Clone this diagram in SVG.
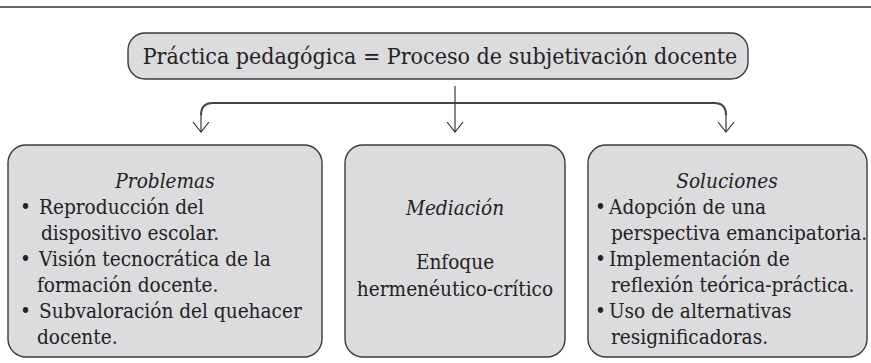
<svg xmlns="http://www.w3.org/2000/svg" width="871" height="363" viewBox="0 0 871 363">
<defs>
<marker id="ah" viewBox="0 0 18 12" refX="9" refY="11" markerWidth="18" markerHeight="12" markerUnits="userSpaceOnUse" orient="0">
<path d="M1 1 L9 11 L17 1" fill="none" stroke="#333" stroke-width="1.2"/>
</marker>
<style>
.box{fill:#dcdcdf;stroke:#3a3a3a;stroke-width:1.4}
.t{font-family:'DejaVu Serif Condensed','DejaVu Serif',serif;font-stretch:condensed;fill:#222;font-size:20.6px}
.h{font-style:italic;text-anchor:middle}
.c{text-anchor:middle}
.ln{fill:none;stroke:#3a3a3a;stroke-width:1.2}
.hl{fill:none;stroke:#444;stroke-width:2}
</style>
</defs>
<rect x="0" y="0" width="871" height="363" fill="#fff"/>
<line x1="0" y1="7" x2="871" y2="7" stroke="#333" stroke-width="1.6"/>
<g id="top">
<rect class="box" x="128" y="33" width="620" height="46" rx="17"/>
<text class="t c" x="440" y="64" style="font-size:23px">Práctica pedagógica = Proceso de subjetivación docente</text>
</g>
<g id="connectors">
<path class="hl" d="M455 103 H213 Q201 103 201 115"/>
<path class="ln" d="M201 114 V132" marker-end="url(#ah)"/>
<path class="hl" d="M455 103 H714 Q726 103 726 115"/>
<path class="ln" d="M726 114 V132" marker-end="url(#ah)"/>
<path class="ln" d="M455 86 V132" marker-end="url(#ah)"/>
</g>
<g id="problemas">
<rect class="box" x="8" y="145" width="314" height="212" rx="18"/>
<text class="t h" x="165" y="188">Problemas</text>
<text class="t" y="214"><tspan x="20">•</tspan><tspan x="39">Reproducción del</tspan></text>
<text class="t" x="41" y="240">dispositivo escolar.</text>
<text class="t" y="266"><tspan x="20">•</tspan><tspan x="39">Visión tecnocrática de la</tspan></text>
<text class="t" x="37" y="292">formación docente.</text>
<text class="t" y="318"><tspan x="20">•</tspan><tspan x="39">Subvaloración del quehacer</tspan></text>
<text class="t" x="37" y="344">docente.</text>
</g>
<g id="mediacion">
<rect class="box" x="345" y="145" width="220" height="212" rx="18"/>
<text class="t h" x="455" y="215">Mediación</text>
<text class="t c" x="455" y="269">Enfoque</text>
<text class="t c" x="455" y="296">hermenéutico-crítico</text>
</g>
<g id="soluciones">
<rect class="box" x="588" y="145" width="279" height="212" rx="18"/>
<text class="t h" x="727" y="188">Soluciones</text>
<text class="t" y="214"><tspan x="595">•</tspan><tspan x="609">Adopción de una</tspan></text>
<text class="t" x="611" y="240">perspectiva emancipatoria.</text>
<text class="t" y="266"><tspan x="595">•</tspan><tspan x="609">Implementación de</tspan></text>
<text class="t" x="611" y="292">reflexión teórica-práctica.</text>
<text class="t" y="318"><tspan x="595">•</tspan><tspan x="609">Uso de alternativas</tspan></text>
<text class="t" x="611" y="344">resignificadoras.</text>
</g>
</svg>
